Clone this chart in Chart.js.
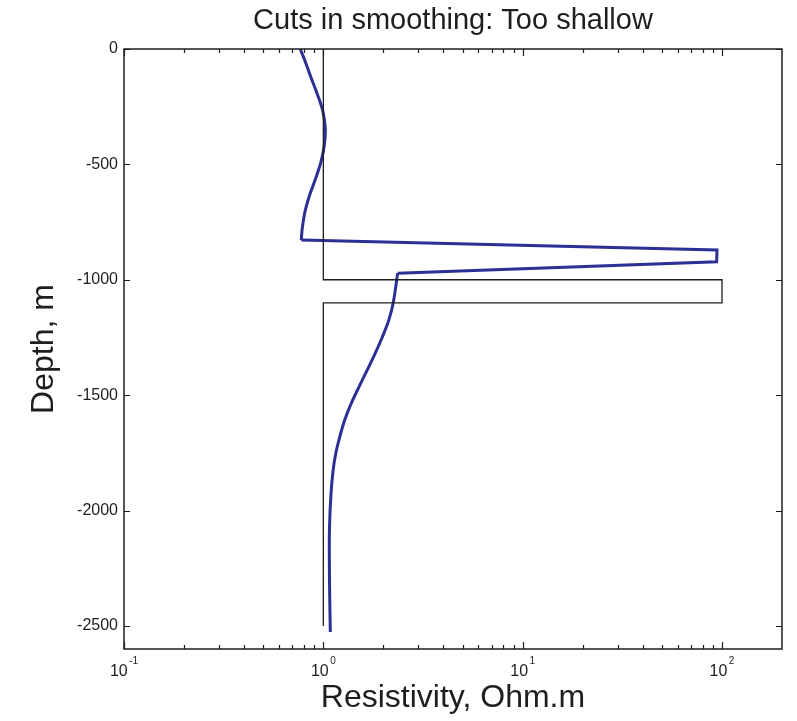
<!DOCTYPE html>
<html><head><meta charset="utf-8">
<script src="https://cdn.jsdelivr.net/npm/chart.js@4"></script>
<style>html,body{margin:0;padding:0;background:#fff}</style>
</head><body>
<canvas id="c" width="797" height="721"></canvas>
<script>
const chartTitle = 'Cuts in smoothing: Too shallow';
const xAxisTitle = 'Resistivity, Ohm.m';
const yAxisTitle = 'Depth, m';
const xTickValues = [0.1, 1, 10, 100];
const xTickBase = '10';
const xTickExponents = ['-1', '0', '1', '2'];
const yTickValues = [0, -500, -1000, -1500, -2000, -2500];
const yTickLabels = ['0', '-500', '-1000', '-1500', '-2000', '-2500'];

// true model (black)
const modelResistivity = [1, 1, 100, 100, 1, 1];
const modelDepth = [0, -1000, -1000, -1100, -1100, -2500];

// inverted smooth model (blue), in three pieces
const upperResistivity = [0.766, 0.812, 0.870, 0.936, 0.996, 1.023, 1.012, 0.973, 0.915, 0.854, 0.809, 0.784, 0.775];
const upperDepth = [0, -55, -127, -199, -272, -344, -416, -489, -561, -633, -705, -777, -828];
const spikeResistivity = [0.775, 94.4, 94.0, 2.36];
const spikeDepth = [-828, -871, -922, -972];
const lowerResistivity = [2.36, 2.24, 2.13, 1.98, 1.82, 1.66, 1.51, 1.38, 1.28, 1.21, 1.155, 1.12, 1.093, 1.074, 1.072, 1.076, 1.084];
const lowerDepth = [-972, -1102, -1175, -1247, -1319, -1391, -1464, -1536, -1608, -1680, -1752, -1825, -1926, -2071, -2215, -2358, -2526];

const FONT = "'Liberation Sans', Arial, Helvetica, sans-serif";
const BLUE = 'rgb(44,47,148)';
const INK = '#1e1e1e';

function pts(xs, ys) { return xs.map((x, i) => ({ x: x, y: ys[i] })); }

const framePlugin = {
  id: 'frame',
  afterDatasetsDraw(chart) {
    const { ctx, chartArea: a, scales: { x, y } } = chart;
    ctx.save();
    ctx.strokeStyle = INK;
    ctx.lineWidth = 1.5;
    ctx.strokeRect(a.left, a.top, a.right - a.left, a.bottom - a.top);
    ctx.lineWidth = 1.2;
    ctx.beginPath();
    for (let k = -1; k <= 2; k++) {
      for (let m = 1; m <= 9; m++) {
        const v = m * Math.pow(10, k);
        if (v < x.min || v >= x.max) continue;
        const px = Math.round(x.getPixelForValue(v)) + 0.5;
        const len = m === 1 ? 7 : 4;
        ctx.moveTo(px, a.bottom); ctx.lineTo(px, a.bottom - len);
        ctx.moveTo(px, a.top); ctx.lineTo(px, a.top + len);
      }
    }
    yTickValues.forEach(v => {
      const py = Math.round(y.getPixelForValue(v)) + 0.5;
      ctx.moveTo(a.left, py); ctx.lineTo(a.left + 6, py);
      ctx.moveTo(a.right, py); ctx.lineTo(a.right - 6, py);
    });
    ctx.stroke();
    ctx.fillStyle = INK;
    ctx.textBaseline = 'alphabetic';
    ctx.textAlign = 'left';
    xTickValues.forEach((v, i) => {
      const px = x.getPixelForValue(v);
      ctx.font = '16px ' + FONT;
      const wb = ctx.measureText(xTickBase).width;
      ctx.font = '10px ' + FONT;
      const we = ctx.measureText(xTickExponents[i]).width;
      const total = wb + 1.5 + we;
      const x0 = px - total / 2;
      ctx.font = '16px ' + FONT;
      ctx.fillText(xTickBase, x0, a.bottom + 27);
      ctx.font = '10px ' + FONT;
      ctx.fillText(xTickExponents[i], x0 + wb + 1.5, a.bottom + 15);
    });
    ctx.restore();
  }
};

new Chart(document.getElementById('c'), {
  type: 'scatter',
  data: {
    datasets: [
      { label: 'model', data: pts(modelResistivity, modelDepth), showLine: true, borderColor: INK, borderWidth: 1.3, pointRadius: 0, tension: 0, fill: false },
      { label: 'smooth upper', data: pts(upperResistivity, upperDepth), showLine: true, borderColor: BLUE, borderWidth: 3, pointRadius: 0, tension: 0.35, fill: false },
      { label: 'smooth spike', data: pts(spikeResistivity, spikeDepth), showLine: true, borderColor: BLUE, borderWidth: 3, pointRadius: 0, tension: 0, fill: false, borderJoinStyle: 'miter' },
      { label: 'smooth lower', data: pts(lowerResistivity, lowerDepth), showLine: true, borderColor: BLUE, borderWidth: 3, pointRadius: 0, tension: 0.4, fill: false }
    ]
  },
  options: {
    responsive: false,
    animation: false,
    devicePixelRatio: 1,
    layout: { padding: { left: 0, right: 15, top: 0, bottom: 0 } },
    plugins: {
      legend: { display: false },
      tooltip: { enabled: false },
      title: {
        display: true, text: chartTitle, fullSize: false, color: INK,
        font: { family: FONT, size: 29, weight: 'normal', lineHeight: 1.2 },
        padding: { top: 4, bottom: 10.2 }
      }
    },
    scales: {
      x: {
        type: 'logarithmic', position: 'bottom', min: 0.1, max: 200,
        afterBuildTicks: s => { s.ticks = xTickValues.map(v => ({ value: v, major: true })); },
        afterFit: s => { s.height = 72; },
        grid: { display: false, drawTicks: false },
        border: { display: false },
        ticks: { display: false, autoSkip: false, maxRotation: 0 },
        title: { display: true, text: xAxisTitle, color: INK, font: { family: FONT, size: 32, weight: 'normal', lineHeight: 1.2 }, padding: { top: 0, bottom: 4 } }
      },
      y: {
        type: 'linear', position: 'left', min: -2600, max: 0,
        afterBuildTicks: s => { s.ticks = yTickValues.map(v => ({ value: v })); },
        afterFit: s => { s.width = 124; },
        grid: { display: false, drawTicks: false },
        border: { display: false },
        ticks: {
          autoSkip: false, padding: 6, color: INK,
          font: { family: FONT, size: 16 },
          callback: v => { const i = yTickValues.indexOf(v); return i >= 0 ? yTickLabels[i] : ''; }
        },
        title: { display: true, text: yAxisTitle, color: INK, font: { family: FONT, size: 32, weight: 'normal', lineHeight: 1.2 }, padding: { top: 25, bottom: 0 } }
      }
    }
  },
  plugins: [framePlugin]
});
</script>
</body></html>
